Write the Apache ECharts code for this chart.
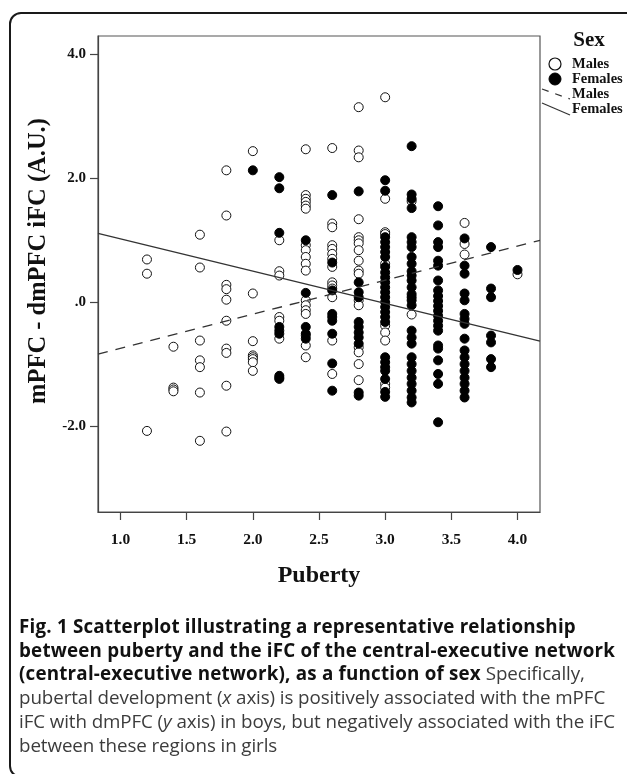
<!DOCTYPE html>
<html>
<head>
<meta charset="utf-8">
<script src="https://cdn.jsdelivr.net/npm/echarts@6.0.0/dist/echarts.min.js"></script>
<style>
html,body{margin:0;padding:0;background:#fff;width:627px;height:774px;overflow:hidden;}
#frame{position:absolute;left:9px;top:12px;width:720px;height:766px;border:2px solid #1a1a1a;border-radius:12px;box-sizing:border-box;}
#chart{position:absolute;left:0;top:0;width:627px;height:774px;}
#caption{position:absolute;left:19px;top:615px;font-family:'Open Sans',sans-serif;font-size:18.8px;line-height:23.7px;color:#3c3c3c;white-space:nowrap;letter-spacing:-0.1px;}
#caption b{color:#111;font-weight:700;letter-spacing:0.2px;}
</style>
</head>
<body>
<div id="frame"></div>
<div id="chart"></div>
<div id="caption">
<b>Fig. 1 Scatterplot illustrating a representative relationship</b><br>
<b>between puberty and the iFC of the central-executive network</b><br>
<b>(central-executive network), as a function of sex</b> Specifically,<br>
pubertal development (<i>x</i> axis) is positively associated with the mPFC<br>
iFC with dmPFC (<i>y</i> axis) in boys, but negatively associated with the iFC<br>
between these regions in girls
</div>
<script>
// ---- data ----
const malePoints = [
  [1.2,0.69],[1.2,0.46],[1.2,-2.08],
  [1.4,-0.72],[1.4,-1.38],[1.4,-1.41],[1.4,-1.44],
  [1.6,1.09],[1.6,0.56],[1.6,-0.62],[1.6,-0.94],[1.6,-1.05],[1.6,-1.46],[1.6,-2.24],
  [1.8,2.13],[1.8,1.40],[1.8,0.28],[1.8,0.21],[1.8,0.04],[1.8,-0.30],[1.8,-0.75],[1.8,-0.82],[1.8,-1.35],[1.8,-2.09],
  [2.0,2.44],[2.0,0.14],[2.0,-0.63],[2.0,-0.86],[2.0,-0.89],[2.0,-0.92],[2.0,-0.97],[2.0,-1.11],
  [2.2,1.00],[2.2,0.50],[2.2,0.43],[2.2,-0.24],[2.2,-0.30],[2.2,-0.59],[2.2,-1.22],
  [2.4,2.47],[2.4,1.73],[2.4,1.67],[2.4,1.62],[2.4,1.56],[2.4,1.51],[2.4,0.92],[2.4,0.84],[2.4,0.73],[2.4,0.62],[2.4,0.51],[2.4,0.03],[2.4,-0.05],[2.4,-0.13],[2.4,-0.19],[2.4,-0.54],[2.4,-0.70],[2.4,-0.89],
  [2.6,2.49],[2.6,1.27],[2.6,1.21],[2.6,0.92],[2.6,0.86],[2.6,0.78],[2.6,0.70],[2.6,0.57],[2.6,0.32],[2.6,0.27],[2.6,0.22],[2.6,0.08],[2.6,-0.62],[2.6,-1.16],
  [2.8,3.15],[2.8,2.45],[2.8,2.34],[2.8,1.34],[2.8,1.05],[2.8,1.00],[2.8,0.95],[2.8,0.84],[2.8,0.67],[2.8,0.51],[2.8,0.46],[2.8,0.03],[2.8,-0.05],[2.8,-0.73],[2.8,-0.81],[2.8,-1.00],[2.8,-1.26],
  [3.0,3.31],[3.0,1.67],[3.0,1.13],[3.0,1.10],[3.0,0.62],[3.0,-0.38],[3.0,-0.49],[3.0,-0.62],[3.0,-1.32],[3.0,-1.38],
  [3.2,1.63],[3.2,-0.20],
  [3.6,1.28],[3.6,0.94],[3.6,0.77],
  [4.0,0.45]
];
const femalePoints = [
  [2.0,2.13],
  [2.2,2.02],[2.2,1.84],[2.2,1.12],[2.2,-0.40],[2.2,-0.46],[2.2,-0.51],[2.2,-1.19],[2.2,-1.24],
  [2.4,1.00],[2.4,0.15],[2.4,-0.40],[2.4,-0.51],[2.4,-0.59],
  [2.6,1.73],[2.6,0.64],[2.6,0.19],[2.6,-0.19],[2.6,-0.24],[2.6,-0.30],[2.6,-0.51],[2.6,-0.99],[2.6,-1.43],
  [2.8,1.79],[2.8,0.32],[2.8,0.16],[2.8,0.08],[2.8,-0.32],[2.8,-0.40],[2.8,-0.49],[2.8,-0.57],[2.8,-0.67],[2.8,-1.46],[2.8,-1.51],
  [3.0,1.97],[3.0,1.80],[3.0,1.05],[3.0,0.97],[3.0,0.89],[3.0,0.81],[3.0,0.73],[3.0,0.57],[3.0,0.48],[3.0,0.40],[3.0,0.32],[3.0,0.24],[3.0,0.16],[3.0,0.08],[3.0,0.00],[3.0,-0.08],[3.0,-0.16],[3.0,-0.24],[3.0,-0.32],[3.0,-0.89],[3.0,-0.97],[3.0,-1.05],[3.0,-1.11],[3.0,-1.24],[3.0,-1.45],[3.0,-1.53],
  [3.2,2.52],[3.2,1.74],[3.2,1.67],[3.2,1.52],[3.2,1.05],[3.2,0.97],[3.2,0.89],[3.2,0.73],[3.2,0.62],[3.2,0.50],[3.2,0.43],[3.2,0.35],[3.2,0.24],[3.2,0.13],[3.2,0.08],[3.2,0.03],[3.2,-0.05],[3.2,-0.46],[3.2,-0.57],[3.2,-0.67],[3.2,-0.89],[3.2,-1.00],[3.2,-1.11],[3.2,-1.22],[3.2,-1.32],[3.2,-1.43],[3.2,-1.54],[3.2,-1.62],
  [3.4,1.55],[3.4,1.24],[3.4,0.97],[3.4,0.89],[3.4,0.67],[3.4,0.59],[3.4,0.35],[3.4,0.19],[3.4,0.10],[3.4,0.02],[3.4,-0.06],[3.4,-0.14],[3.4,-0.22],[3.4,-0.30],[3.4,-0.38],[3.4,-0.46],[3.4,-0.70],[3.4,-0.75],[3.4,-0.94],[3.4,-1.16],[3.4,-1.32],[3.4,-1.94],
  [3.6,1.03],[3.6,0.59],[3.6,0.46],[3.6,0.14],[3.6,0.03],[3.6,-0.19],[3.6,-0.27],[3.6,-0.35],[3.6,-0.59],[3.6,-0.78],[3.6,-0.89],[3.6,-1.00],[3.6,-1.11],[3.6,-1.22],[3.6,-1.32],[3.6,-1.43],[3.6,-1.54],
  [3.8,0.89],[3.8,0.22],[3.8,0.08],[3.8,-0.54],[3.8,-0.65],[3.8,-0.92],[3.8,-1.05],
  [4.0,0.52]
];
// fitted lines (end points across the plot range)
const fitX = [0.83, 4.17];
const maleFitY = [-0.84, 1.00];
const femaleFitY = [1.11, -0.63];
// axis ticks
const xTicks = [1.0, 1.5, 2.0, 2.5, 3.0, 3.5, 4.0];
const xTickLabels = ['1.0','1.5','2.0','2.5','3.0','3.5','4.0'];
const yTicks = [-2, 0, 2, 4];
const yTickLabels = ['-2.0', '.0', '2.0', '4.0'];

const serif = '"Liberation Serif","Times New Roman",serif';
const chart = echarts.init(document.getElementById('chart'), null, {renderer:'canvas'});

const axisCommon = {
  type: 'value',
  splitLine: {show: false},
  axisLine: {show: true, onZero: false, lineStyle: {color: '#444', width: 1.2}},
};

chart.setOption({
  animation: false,
  backgroundColor: 'transparent',
  grid: {left: 98, right: 87, top: 36, bottom: 262, show: true, borderColor: '#555', borderWidth: 1.2, containLabel: false, outerBoundsMode: 'none'},
  xAxis: Object.assign({}, axisCommon, {
    min: fitX[0], max: fitX[1],
    axisTick: {show: true, customValues: xTicks, length: 8, lineStyle: {color: '#444', width: 1.2}},
    axisLabel: {customValues: xTicks, formatter: v => xTickLabels[xTicks.indexOf(+v.toFixed(1))] || '', fontFamily: serif, fontWeight: 'bold', fontSize: 15.5, color: '#111', margin: 20},
    name: 'Puberty', nameLocation: 'middle', nameGap: 52,
    nameTextStyle: {fontFamily: serif, fontWeight: 'bold', fontSize: 24, color: '#111'}
  }),
  yAxis: Object.assign({}, axisCommon, {
    min: -3.39, max: 4.30,
    axisTick: {show: true, customValues: yTicks, length: 8, lineStyle: {color: '#444', width: 1.2}},
    axisLabel: {customValues: yTicks, formatter: v => yTickLabels[yTicks.indexOf(Math.round(v))] || '', fontFamily: serif, fontWeight: 'bold', fontSize: 15, color: '#111', margin: 12}
  }),
  series: [
    {name: 'Males', type: 'scatter', data: malePoints, symbol: 'circle', symbolSize: 9,
     itemStyle: {color: '#fff', borderColor: '#111', borderWidth: 1, opacity: 1}, z: 2},
    {name: 'Females', type: 'scatter', data: femalePoints, symbol: 'circle', symbolSize: 9,
     itemStyle: {color: '#000', borderColor: '#000', borderWidth: 1, opacity: 1}, z: 3},
    {name: 'Males fit', type: 'line', data: fitX.map((x, i) => [x, maleFitY[i]]), symbol: 'none',
     lineStyle: {color: '#333', width: 1.3, type: [10, 8]}, z: 4, silent: true},
    {name: 'Females fit', type: 'line', data: fitX.map((x, i) => [x, femaleFitY[i]]), symbol: 'none',
     lineStyle: {color: '#333', width: 1.3, type: 'solid'}, z: 4, silent: true}
  ],
  graphic: [
    {type: 'text', x: 39, y: 261, rotation: Math.PI / 2,
     style: {text: 'mPFC - dmPFC iFC (A.U.)', font: 'bold 24.5px ' + serif, fill: '#111', align: 'center', verticalAlign: 'middle'}},
    {type: 'text', x: 589, y: 41, style: {text: 'Sex', font: 'bold 21px ' + serif, fill: '#111', align: 'center', verticalAlign: 'middle'}},
    {type: 'circle', shape: {cx: 555, cy: 64, r: 6}, style: {fill: '#fff', stroke: '#111', lineWidth: 1.2}},
    {type: 'text', x: 572, y: 64, style: {text: 'Males', font: 'bold 14.5px ' + serif, fill: '#111', verticalAlign: 'middle'}},
    {type: 'circle', shape: {cx: 555, cy: 79, r: 6}, style: {fill: '#000', stroke: '#000', lineWidth: 1}},
    {type: 'text', x: 572, y: 79, style: {text: 'Females', font: 'bold 14.5px ' + serif, fill: '#111', verticalAlign: 'middle'}},
    {type: 'line', shape: {x1: 542, y1: 89, x2: 570, y2: 99}, style: {stroke: '#333', lineWidth: 1.2, lineDash: [7, 7]}},
    {type: 'text', x: 572, y: 94, style: {text: 'Males', font: 'bold 14.5px ' + serif, fill: '#111', verticalAlign: 'middle'}},
    {type: 'line', shape: {x1: 542, y1: 103, x2: 570, y2: 115}, style: {stroke: '#333', lineWidth: 1.2}},
    {type: 'text', x: 572, y: 109, style: {text: 'Females', font: 'bold 14.5px ' + serif, fill: '#111', verticalAlign: 'middle'}}
  ]
});
</script>
</body>
</html>
